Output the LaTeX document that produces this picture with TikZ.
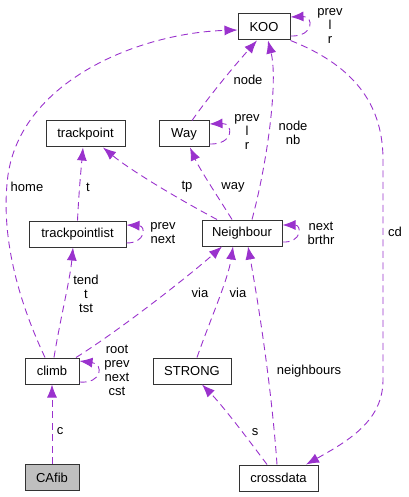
\documentclass[tikz,border=0pt]{standalone}
\usepackage{fontspec}
\setmainfont{Liberation Sans}
\usetikzlibrary{arrows.meta}
\definecolor{edgec}{HTML}{9A32CD}
\definecolor{boxgray}{HTML}{BFBFBF}
\begin{document}
\begin{tikzpicture}[x=1pt,y=-1pt,
  cls/.style={draw=black!80, line width=1pt, minimum height=26pt, inner sep=0pt, font=\fontsize{13}{14}\selectfont, fill=white},
  dep/.style={draw=edgec, line width=0.9pt, dash pattern=on 7pt off 4.5pt, -{Latex[length=13pt,width=10pt]}},
  lbl/.style={font=\fontsize{13}{14}\selectfont, align=center, inner sep=0pt}]
\useasboundingbox (0,0) rectangle (408,497);

% classes
\node[cls, minimum width=52pt] (KOO) at (264,27) {KOO};
\node[cls, minimum width=79pt] (trackpoint) at (85.5,134) {trackpoint};
\node[cls, minimum width=50pt] (Way) at (184,134) {Way};
\node[cls, minimum width=97pt] (tpl) at (77.5,234) {trackpointlist};
\node[cls, minimum width=80pt] (Neighbour) at (242,233) {Neighbour};
\node[cls, minimum width=54pt] (climb) at (52,371) {climb};
\node[cls, minimum width=78pt] (STRONG) at (192,371) {STRONG};
\node[cls, minimum width=54pt, fill=boxgray] (CAfib) at (52,477.5) {CAfib};
\node[cls, minimum width=79pt] (crossdata) at (278.5,478) {crossdata};

% edges
\draw[dep] (CAfib.north) -- (climb.south);
\draw[dep] ([yshift=-11pt]climb.east) .. controls (102,384) and (104,364) .. ([yshift=10pt]climb.east);
\draw[dep] ([xshift=2pt]climb.north) .. controls (60,320) and (70,280) .. ([xshift=-4.5pt]tpl.south);
\draw[dep] ([xshift=-7pt]climb.north) .. controls (18,300) and (0,235) .. (8,175) .. controls (22,80) and (140,33) .. ([yshift=-3pt]KOO.west);
\draw[dep] ([xshift=24pt]climb.north) .. controls (120,330) and (190,275) .. ([xshift=-20pt]Neighbour.south);
\draw[dep] (tpl.north) .. controls (79,190) and (81,170) .. ([xshift=-2.5pt]trackpoint.south);
\draw[dep] ([yshift=-9pt]tpl.east) .. controls (146,243) and (146,226) .. ([yshift=9pt]tpl.east);
\draw[dep] ([xshift=-25pt]Neighbour.north) .. controls (180,200) and (130,170) .. ([xshift=17.5pt]trackpoint.south);
\draw[dep] ([xshift=-10pt]Neighbour.north) .. controls (220,200) and (200,170) .. ([xshift=6pt]Way.south);
\draw[dep] ([xshift=10pt]Neighbour.north) .. controls (268,160) and (278,80) .. ([xshift=4pt]KOO.south);
\draw[dep] ([yshift=-9pt]Neighbour.east) .. controls (302,243) and (302,225) .. ([yshift=8pt]Neighbour.east);
\draw[dep] ([xshift=8pt]Way.north) .. controls (210,95) and (235,65) .. ([xshift=-7pt]KOO.south);
\draw[dep] ([yshift=-10pt]Way.east) .. controls (234,145) and (234,123) .. ([yshift=10pt]Way.east);
\draw[dep] ([yshift=-9pt]KOO.east) .. controls (314,37) and (314,16) .. ([yshift=10pt]KOO.east);
\draw[dep] (KOO.south east) .. controls (360,68) and (383,110) .. (383,160) -- (383,380) .. controls (383,420) and (350,440) .. ([xshift=27.5pt]crossdata.north);
\draw[dep] ([xshift=5pt]STRONG.north) .. controls (210,320) and (228,280) .. ([xshift=-9pt]Neighbour.south);
\draw[dep] ([xshift=-11.5pt]crossdata.north) .. controls (245,435) and (222,405) .. ([xshift=10pt]STRONG.south);
\draw[dep] ([xshift=-1.5pt]crossdata.north) .. controls (271,380) and (256,290) .. ([xshift=6pt]Neighbour.south);

% labels
\node[lbl] (lc) at (60,431) {c};
\node[lbl] (lclimb) at (117,370) {root\\prev\\next\\cst};
\node[lbl] (ltend) at (86,294) {tend\\t\\tst};
\node[lbl] (lhome) at (27,187) {home};
\node[lbl] (lvia1) at (200,293) {via};
\node[lbl] (lt) at (88,187) {t};
\node[lbl] (ltpl) at (163,233) {prev\\next};
\node[lbl] (ltp) at (187,187) {tp};
\node[lbl] (lway) at (233,187) {way};
\node[lbl] (lnodenb) at (293,133) {node\\nb};
\node[lbl] (lnb) at (321,233) {next\\brthr};
\node[lbl] (lnode) at (248,80) {node};
\node[lbl] (lwayself) at (247,132) {prev\\l\\r};
\node[lbl] (lkoo) at (330,26) {prev\\l\\r};
\node[lbl] (lcd) at (395,232) {cd};
\node[lbl] (lvia2) at (238,293) {via};
\node[lbl] (ls) at (255,432) {s};
\node[lbl] (lneigh) at (309,371) {neighbours};
\end{tikzpicture}
\end{document}
